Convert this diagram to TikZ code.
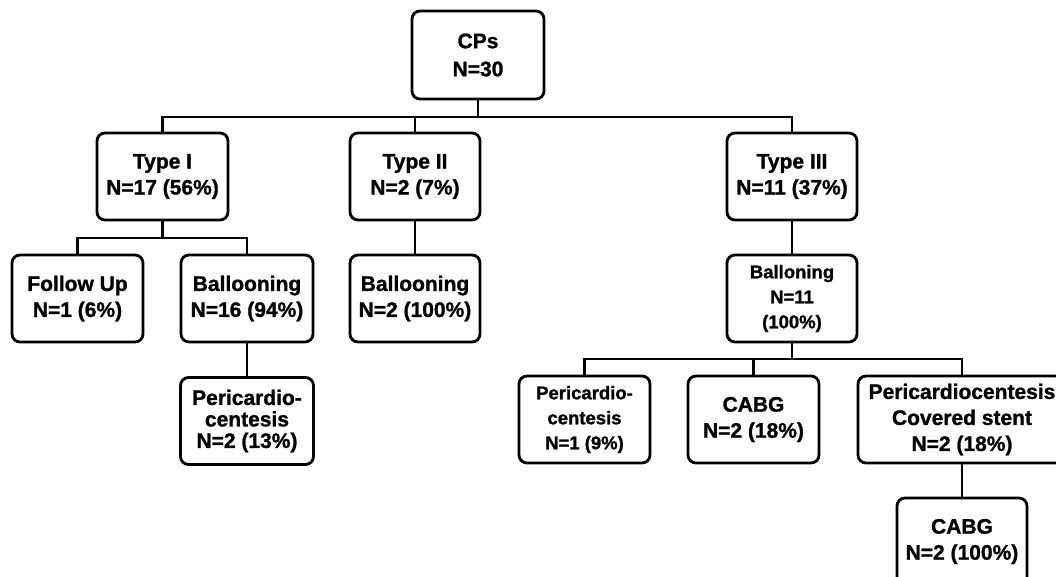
\documentclass[tikz,border=0pt]{standalone}
\usepackage{fontspec}
\setmainfont{Liberation Sans}[BoldFeatures={FakeBold=1.2}]
\begin{document}
\begin{tikzpicture}[x=1pt,y=-1pt,
  box/.style={draw=black, line width=2.8pt, rounded corners=8pt, align=center,
    inner sep=0pt, minimum height=87pt, font={\fontsize{21}{26}\selectfont\bfseries}},
  smallbox/.style={box, font={\fontsize{18.5}{25}\selectfont\bfseries}},
  conn/.style={draw=black, line width=2.8pt}]
\useasboundingbox (0,0) rectangle (1056,577);
\clip (0,0) rectangle (1056,577);
\fill[white] (0,0) rectangle (1056,577);
% nodes
\node[box, minimum width=132pt, minimum height=88pt, font={\fontsize{21}{28}\selectfont\bfseries}] (cps) at (478,55) {CPs\\N=30};
\node[box, minimum width=131pt] (t1) at (162.5,176.5) {Type I\\N=17 (56\%)};
\node[box, minimum width=130pt] (t2) at (415,176.5) {Type II\\N=2 (7\%)};
\node[box, minimum width=130pt] (t3) at (792,176.5) {Type III\\N=11 (37\%)};
\node[box, minimum width=131pt] (fu) at (77.5,298.5) {Follow Up\\N=1 (6\%)};
\node[box, minimum width=132pt] (b1) at (247,298.5) {Ballooning\\N=16 (94\%)};
\node[box, minimum width=130pt] (b2) at (415,298.5) {Ballooning\\N=2 (100\%)};
\node[smallbox, minimum width=130pt] (b3) at (792,298.5) {Balloning\\N=11\\(100\%)};
\node[box, minimum width=133pt, font={\fontsize{21}{21.5}\selectfont\bfseries}] (p1) at (247,421) {Pericardio-\\centesis\\N=2 (13\%)};
\node[smallbox, minimum width=131pt] (p3) at (584.5,419.5) {Pericardio-\\centesis\\N=1 (9\%)};
\node[box, minimum width=131pt] (c3) at (753.5,419.5) {CABG\\N=2 (18\%)};
\node[box, minimum width=208pt] (pc) at (962,419.5) {Pericardiocentesis\\Covered stent\\N=2 (18\%)};
\node[box, minimum width=130pt] (c4) at (962,541.5) {CABG\\N=2 (100\%)};
% junction coordinates
\coordinate (j0) at (478,117);
\coordinate (j1) at (162.5,238);
\coordinate (j3) at (792,359);
% connectors
\draw[conn] (cps.south) -- (j0);
\draw[conn] (t1.north) |- (j0) -| (t3.north);
\draw[conn] (t2.north) -- (t2.north |- j0);
\draw[conn] (t1.south) -- (j1);
\draw[conn] (fu.north) |- (j1) -| (b1.north);
\draw[conn] (t2.south) -- (b2.north);
\draw[conn] (b1.south) -- (p1.north);
\draw[conn] (t3.south) -- (b3.north);
\draw[conn] (b3.south) -- (j3);
\draw[conn] (p3.north) |- (j3) -| (pc.north);
\draw[conn] (c3.north) -- (c3.north |- j3);
\draw[conn] (pc.south) -- (c4.north);
\end{tikzpicture}
\end{document}
